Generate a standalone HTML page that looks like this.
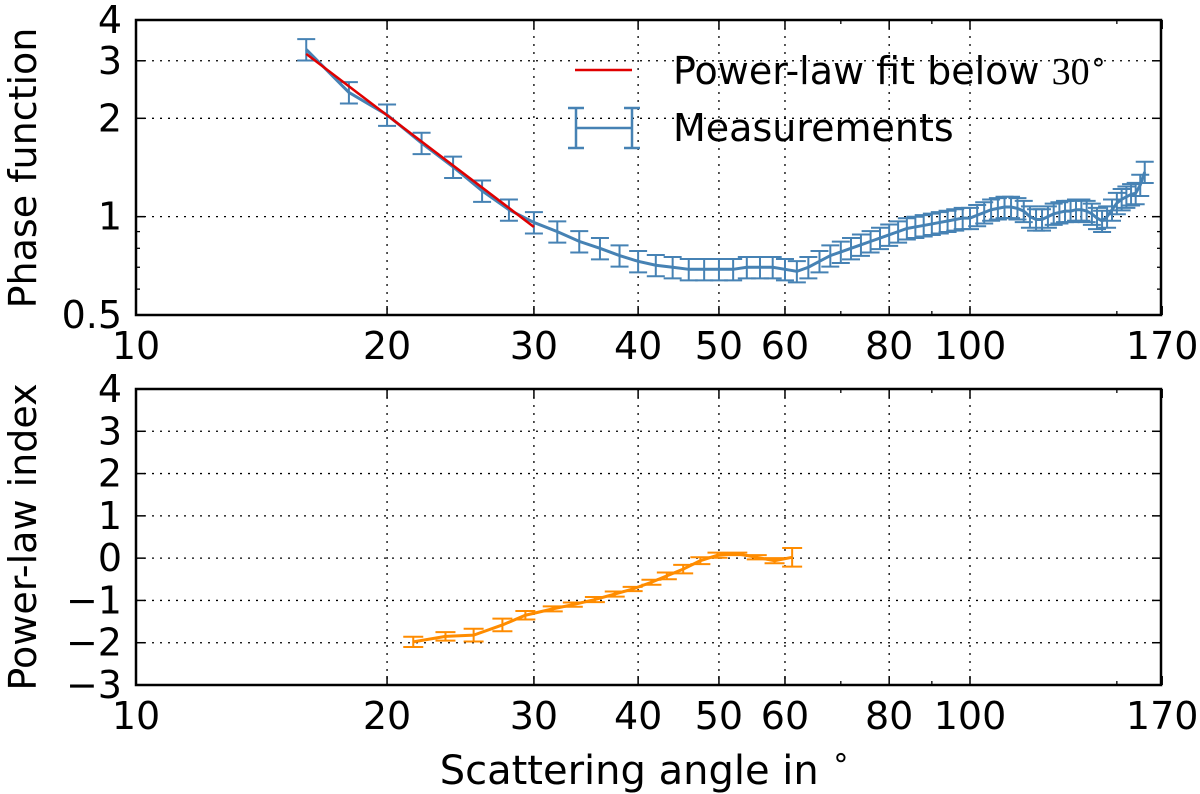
<!DOCTYPE html>
<html><head><meta charset="utf-8"><style>
body{margin:0;background:#fff}
svg{display:block;font-family:"DejaVu Sans","Liberation Sans",sans-serif}
</style></head><body>
<svg id="c" width="1200" height="794" viewBox="0 0 1200 794"></svg>
<script>
const angles=[16,18,20,22,24,26,28,30,32,34,36,38,40,42,44,46,48,50,52,54,56,58,60,62,64,66,68,70,72,74,76,78,80,82,84,86,88,90,92,94,96,98,100,102,104,106,108,110,112,114,116,118,120,122,124,126,128,130,132,134,136,138,140,142,144,146,148,150,152,154,156,158,160,162];
const phase=[3.25,2.4,2.05,1.68,1.42,1.2,1.05,0.96,0.9,0.84,0.8,0.76,0.73,0.71,0.7,0.69,0.69,0.69,0.69,0.7,0.7,0.7,0.69,0.68,0.7,0.73,0.76,0.78,0.8,0.82,0.84,0.86,0.88,0.9,0.92,0.93,0.94,0.95,0.96,0.97,0.98,0.99,0.99,1.01,1.03,1.05,1.06,1.07,1.07,1.06,1.04,1.0,0.98,0.98,1.0,1.02,1.03,1.04,1.04,1.05,1.05,1.04,1.02,0.99,0.97,1.0,1.05,1.1,1.13,1.15,1.17,1.18,1.25,1.37];
const phaseRelErr=0.075;
const fitAngles=[16,30];
const fitValues=[3.15,0.93];
const idxAngles=[21.5,23.5,25.4,27.5,29.3,31.6,33.4,35.5,37.5,39.4,41.5,43.3,45.3,47.5,49.8,52.6,55.5,58.3,61.2];
const idxValues=[-1.98,-1.85,-1.82,-1.58,-1.35,-1.2,-1.1,-0.98,-0.85,-0.73,-0.57,-0.42,-0.26,-0.06,0.07,0.1,0.02,-0.06,0.02];
const idxErr=[0.12,0.1,0.15,0.15,0.1,0.06,0.05,0.06,0.06,0.05,0.06,0.08,0.1,0.08,0.06,0.03,0.05,0.06,0.22];
const xTicks=[10,20,30,40,50,60,80,100,170];
const xMinor=[70,90,150];
const topYTicks=[0.5,1,2,3,4];
const topYMinor=[0.6,0.7,0.8,0.9];
const botYTicks=[-3,-2,-1,0,1,2,3,4];

const NS='http://www.w3.org/2000/svg';
const svg=document.getElementById('c');
function el(t,a,p){const e=document.createElementNS(NS,t);for(const k in a)e.setAttribute(k,a[k]);(p||svg).appendChild(e);return e;}
const L=136,R=1161;
const X=v=>L+(Math.log10(v)-1)*834;
const T0=20,T1=315,B0=389,B1=685;
const Yt=v=>T1-(Math.log10(v)-Math.log10(0.5))*326.7;
const Yb=v=>B1-(v+3)*(B1-B0)/7;
const FS=38;

function axes(top,bot,yTicks,yMinor,Y,fmt,nm){
  const g=el('g',{});
  
  
  xTicks.forEach(t=>{
    const x=X(t);
    if(t>10&&t<170){const l=el('line',{x1:x,x2:x,y1:top,y2:bot,stroke:'#000','stroke-width':1.3,'stroke-dasharray':'2,6'},g);
    }
    el('line',{x1:x,x2:x,y1:bot,y2:bot-9,stroke:'#000','stroke-width':1.5},g);
    el('line',{x1:x,x2:x,y1:top,y2:top+9,stroke:'#000','stroke-width':1.5},g);
    const tx=el('text',{x:x,y:bot+44,'font-size':FS,'text-anchor':'middle'},g);tx.textContent=t;
    
  });
  xMinor.forEach(t=>{const x=X(t);
    el('line',{x1:x,x2:x,y1:bot,y2:bot-4,stroke:'#000','stroke-width':1.3},g);
    el('line',{x1:x,x2:x,y1:top,y2:top+4,stroke:'#000','stroke-width':1.3},g);});
  yTicks.forEach(t=>{
    const y=Y(t);
    if(y>top+1&&y<bot-1){const l=el('line',{x1:L,x2:R,y1:y,y2:y,stroke:'#000','stroke-width':1.3,'stroke-dasharray':'2,6'},g);
    }
    el('line',{x1:L,x2:L+9,y1:y,y2:y,stroke:'#000','stroke-width':1.5},g);
    el('line',{x1:R,x2:R-9,y1:y,y2:y,stroke:'#000','stroke-width':1.5},g);
    const tx=el('text',{x:L-14,y:y+13,'font-size':FS,'text-anchor':'end'},g);tx.textContent=fmt(t);
    
  });
  yMinor.forEach(t=>{const y=Y(t);
    el('line',{x1:L,x2:L+4,y1:y,y2:y,stroke:'#000','stroke-width':1.3},g);
    el('line',{x1:R,x2:R-4,y1:y,y2:y,stroke:'#000','stroke-width':1.3},g);});
  return g;
}
axes(T0,T1,topYTicks,topYMinor,Yt,v=>String(v),'top');
axes(B0,B1,botYTicks,[],Yb,v=>v<0?'\u2212'+(-v):String(v),'bottom');

const gm=el('g',{});

const blue='#4682b4';
angles.forEach((a,i)=>{const x=X(a),v=phase[i];
  const y1=Yt(v*(1+phaseRelErr)),y2=Yt(v*(1-phaseRelErr));
  const e=el('path',{d:`M${x},${y1}V${y2}M${x-9},${y1}H${x+9}M${x-9},${y2}H${x+9}`,stroke:blue,'stroke-width':2,fill:'none'},gm);
  });
const pl=el('polyline',{points:angles.map((a,i)=>X(a)+','+Yt(phase[i])).join(' '),fill:'none',stroke:blue,'stroke-width':3},gm);

const fit=el('line',{x1:X(fitAngles[0]),y1:Yt(fitValues[0]),x2:X(fitAngles[1]),y2:Yt(fitValues[1]),stroke:'#e00000','stroke-width':2.5});


const go=el('g',{});

const orange='#ff8c00';
idxAngles.forEach((a,i)=>{const x=X(a),y1=Yb(idxValues[i]+idxErr[i]),y2=Yb(idxValues[i]-idxErr[i]);
  const e=el('path',{d:`M${x},${y1}V${y2}M${x-10},${y1}H${x+10}M${x-10},${y2}H${x+10}`,stroke:orange,'stroke-width':2,fill:'none'},go);
  });
const ol=el('polyline',{points:idxAngles.map((a,i)=>X(a)+','+Yb(idxValues[i])).join(' '),fill:'none',stroke:orange,'stroke-width':3},go);


[[T0,T1,'top-frame'],[B0,B1,'bottom-frame']].forEach(([a,b,n])=>{const r=el('rect',{x:L,y:a,width:R-L,height:b-a,fill:'none',stroke:'#000','stroke-width':2.5});
  });

const lg=el('g',{});

el('line',{x1:575,x2:632,y1:70,y2:70,stroke:'#e00000','stroke-width':2.5},lg);
el('path',{d:'M576,108V148M632,108V148M568,108H584M568,148H584M624,108H640M624,148H640M576,128H632',stroke:blue,'stroke-width':2.5,fill:'none'},lg);
const t1=el('text',{x:673,y:84,'font-size':38},lg);t1.innerHTML='Power-law fit below <tspan font-family="Liberation Serif, serif">30</tspan><tspan font-size="28" dy="-13">\u2218</tspan>';

const t2=el('text',{x:673,y:141,'font-size':38},lg);t2.textContent='Measurements';


const yl1=el('text',{transform:'translate(36,168) rotate(-90)','font-size':38,'text-anchor':'middle'});yl1.textContent='Phase function';

const yl2=el('text',{transform:'translate(36,537) rotate(-90)','font-size':38,'text-anchor':'middle'});yl2.textContent='Power-law index';

const xl=el('text',{x:645,y:784,'font-size':40,'text-anchor':'middle'});xl.innerHTML='Scattering angle in <tspan font-size="30" dy="-17">\u2218</tspan>';

</script>
</body></html>
